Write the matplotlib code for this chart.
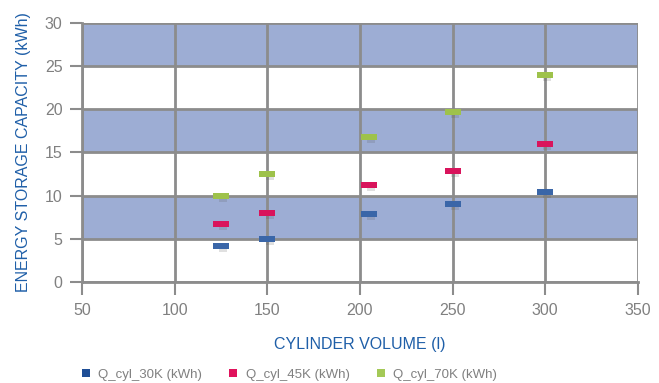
import matplotlib
matplotlib.use("Agg")
import matplotlib.pyplot as plt
from matplotlib.lines import Line2D

# data
volume = [125, 150, 205, 250, 300]
q_30k = [4.2, 5.0, 7.9, 9.0, 10.4]
q_45k = [6.7, 8.0, 11.2, 12.9, 16.0]
q_70k = [10.0, 12.5, 16.8, 19.7, 24.0]
series_names = ["Q_cyl_30K (kWh)", "Q_cyl_45K (kWh)", "Q_cyl_70K (kWh)"]
series_colors = ["#3A66A8", "#D9145C", "#9EC24B"]
legend_colors = ["#1F4E96", "#E0125C", "#A4C957"]
x_ticks = [50, 100, 150, 200, 250, 300, 350]
y_ticks = [0, 5, 10, 15, 20, 25, 30]

plt.rcParams['font.family'] = ['Liberation Sans', 'DejaVu Sans']
grid_col = "#8C8C8C"
text_col = "#808080"
label_col = "#1F5FA8"

fig = plt.figure(figsize=(6.59, 3.83), dpi=100)
ax = fig.add_axes([0.1244, 0.2637, 0.8436, 0.6763])
ax.set_xlim(50, 350)
ax.set_ylim(0, 30)

# alternating bands
for lo in [5, 15, 25]:
    ax.axhspan(lo, lo + 5, color="#9DADD4", zorder=0, lw=0)

ax.set_xticks(x_ticks)
ax.set_yticks(y_ticks)
ax.grid(True, color=grid_col, lw=2, zorder=1)
ax.set_axisbelow(True)
for s in ["top", "right"]:
    ax.spines[s].set_visible(False)
for s in ["left", "bottom"]:
    ax.spines[s].set_color(grid_col)
    ax.spines[s].set_linewidth(2)
ax.tick_params(colors=grid_col, labelcolor=text_col, labelsize=11.5, length=9, width=1.5)
ax.tick_params(axis="y", pad=5)
ax.tick_params(axis="x", pad=6)

for ys, c in zip([q_30k, q_45k, q_70k], series_colors):
    # drop shadow
    ax.plot([v + 1.2 for v in volume], [y - 0.25 for y in ys], ls="none",
            marker="s", markersize=6, markeredgewidth=0, color="#555555",
            alpha=0.18, zorder=3)
    ax.plot(volume, ys, ls="none", marker=[(-1.1, -0.45), (1.1, -0.45), (1.1, 0.45), (-1.1, 0.45)],
            markersize=11, markeredgewidth=0, color=c, zorder=4)

ax.set_xlabel("CYLINDER VOLUME (l)", color=label_col, fontsize=11.5, labelpad=14)
ax.set_ylabel("ENERGY STORAGE CAPACITY (kWh)", color=label_col, fontsize=11.5, labelpad=10)

handles = [Line2D([], [], ls="none", marker="s", markersize=6, markeredgewidth=0, color=c)
           for c in legend_colors]
fig.legend(handles, series_names, loc="center left", bbox_to_anchor=(0.103, 0.022), ncol=3,
           frameon=False, fontsize=9.5, labelcolor=text_col, handlelength=0.9,
           handletextpad=0.5, columnspacing=1.9)

fig.savefig("out.png", dpi=100)
